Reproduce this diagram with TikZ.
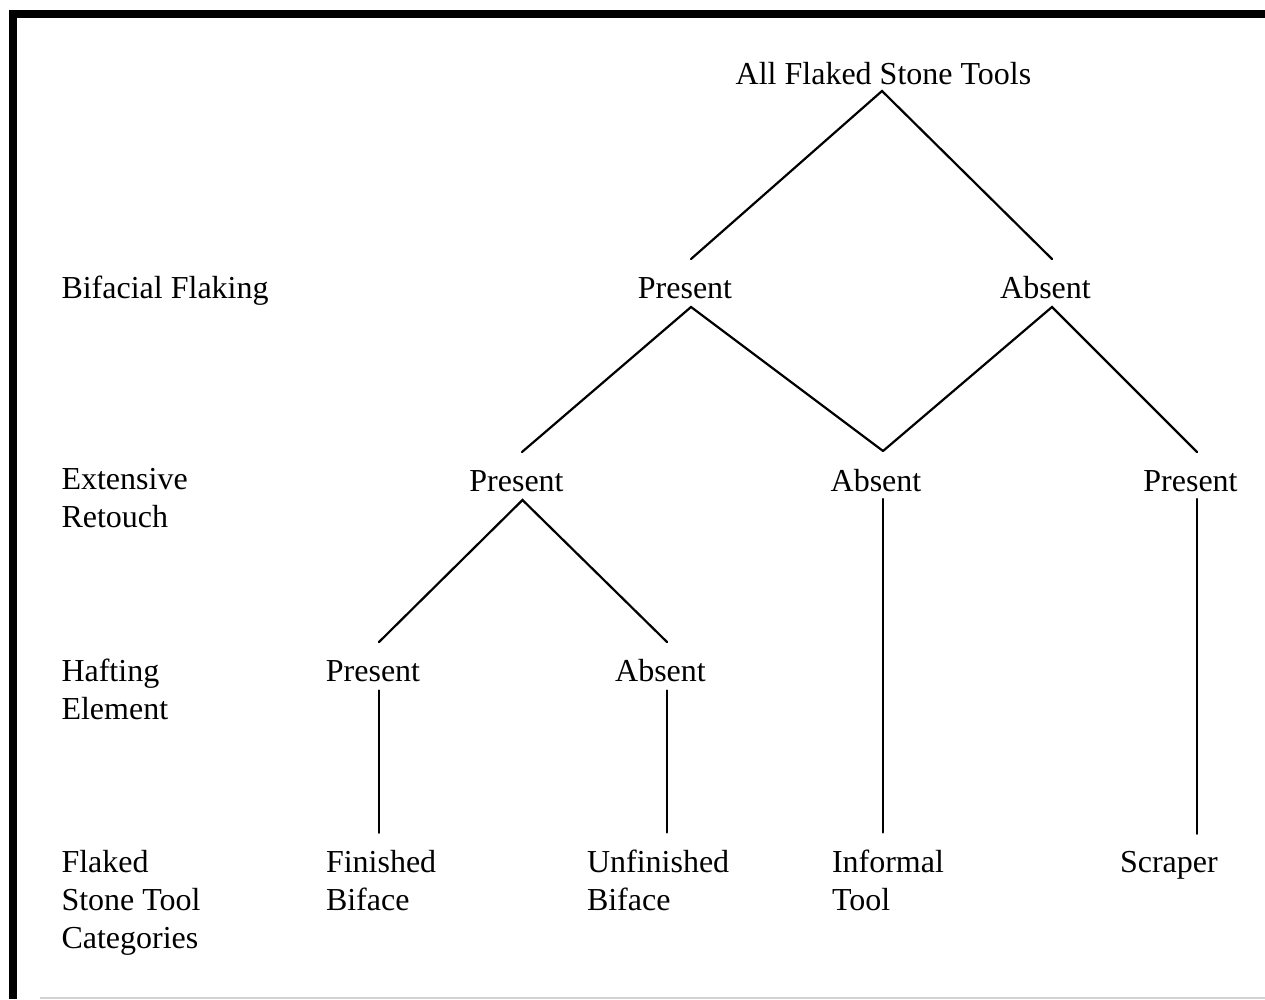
\documentclass[tikz,border=0pt]{standalone}
\usepackage{fontspec}
\setmainfont{Liberation Serif}
\begin{document}
\begin{tikzpicture}[x=1pt,y=-1pt,
  lbl/.style={inner sep=0pt, outer sep=0pt, font=\fontsize{32}{38}\selectfont},
  val/.style={lbl, anchor=base, text height=22pt, text depth=0pt},
  side/.style={lbl, anchor=base west, align=left},
  leaf/.style={lbl, anchor=base west, align=left, outer ysep=17pt},
  conn/.style={line width=2.2pt, line cap=round, line join=miter},
  frame/.style={line width=8pt, line join=miter}]
\useasboundingbox (0,0) rectangle (1265,999);
\fill[white] (0,0) rectangle (1265,999);
\draw[frame] (1265,14) -- (12.5,14) -- (12.5,999);
\draw[gray!35, line width=1.2pt] (40,998) -- (1265,998);

% side labels (base anchor = baseline of last line)
\node[side] (sbf) at (61.5,298) {Bifacial Flaking};
\node[side] (ser) at (61.5,527) {Extensive\\Retouch};
\node[side] (she) at (61.5,719) {Hafting\\Element};
\node[side] (sfc) at (61.5,948) {Flaked\\Stone Tool\\Categories};

% tree values
\node[val] (all) at (883.5,84) {All Flaked Stone Tools};
\node[val] (bp) at (685,298) {Present};
\node[val] (ba) at (1045.5,298) {Absent};
\node[val] (rp) at (516.5,491) {Present};
\node[val] (ra) at (876,491) {Absent};
\node[val] (rp2) at (1190.5,491) {Present};
\node[val] (hp) at (373,681.5) {Present};
\node[val] (ha) at (660.5,681.5) {Absent};

% leaves
\node[leaf] (fin) at (326,910) {Finished\\Biface};
\node[leaf] (unf) at (587,910) {Unfinished\\Biface};
\node[leaf] (inf) at (832,910) {Informal\\Tool};
\node[leaf] (scr) at (1120,872) {Scraper};

% connectors
\draw[conn] ([xshift=6pt,yshift=17pt]bp.north) -- ([xshift=-1.5pt,yshift=-7pt]all.south) -- ([xshift=6.5pt,yshift=17pt]ba.north);
\draw[conn] ([xshift=5.5pt,yshift=17pt]rp.north) -- ([xshift=6pt,yshift=-9pt]bp.south) -- ([xshift=7pt,yshift=18pt]ra.north);
\draw[conn] ([xshift=7pt,yshift=18pt]ra.north) -- ([xshift=6.5pt,yshift=-9pt]ba.south) -- ([xshift=6.5pt,yshift=17pt]rp2.north);
\draw[conn] ([xshift=6pt,yshift=17.5pt]hp.north) -- ([xshift=6pt,yshift=-9pt]rp.south) -- ([xshift=6.5pt,yshift=17.5pt]ha.north);
\draw[conn] ([xshift=6pt,yshift=-9pt]hp.south) -- ([xshift=6pt]hp.south |- fin.north);
\draw[conn] ([xshift=6.5pt,yshift=-9pt]ha.south) -- ([xshift=6.5pt]ha.south |- unf.north);
\draw[conn] ([xshift=7pt,yshift=-8pt]ra.south) -- ([xshift=7pt]ra.south |- inf.north);
\draw[conn] ([xshift=6.5pt,yshift=-8pt]rp2.south) -- ([xshift=6.5pt]rp2.south |- scr.north);
\end{tikzpicture}
\end{document}
